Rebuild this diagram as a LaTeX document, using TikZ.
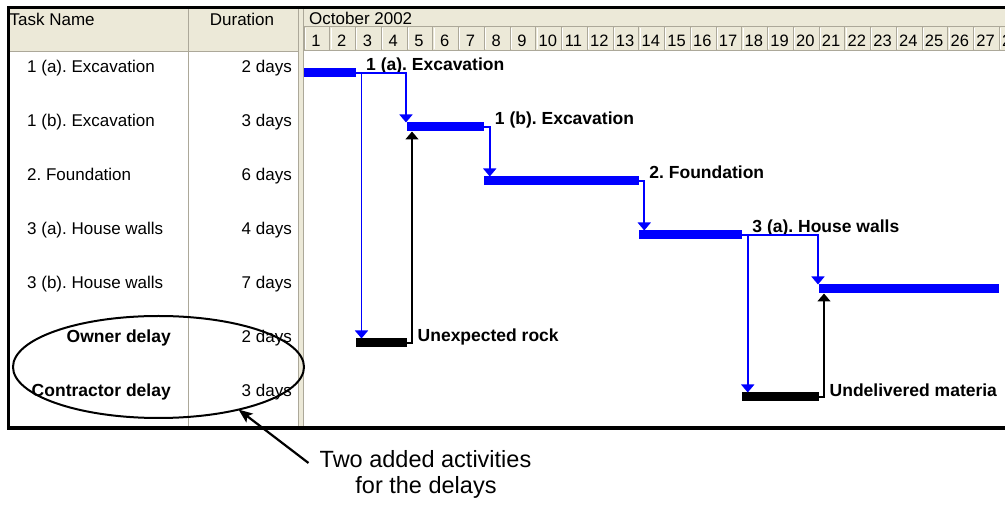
\documentclass[tikz,border=0pt]{standalone}
\usepackage{fontspec}
\setmainfont{Liberation Sans}
\usetikzlibrary{arrows.meta,calc,shapes.geometric}

\definecolor{xpbeige}{HTML}{ECE9D8}
\definecolor{xpline}{HTML}{ACA899}
\definecolor{msblue}{RGB}{0,0,255}

\frenchspacing
\begin{document}
\begin{tikzpicture}[x=1pt,y=-1pt,
  txt/.style={inner sep=0pt, font=\fontsize{17}{20}\selectfont},
  boldtxt/.style={inner sep=0pt, font=\fontsize{17.5}{20}\selectfont\bfseries},
  daynum/.style={inner sep=0pt, anchor=base, font=\fontsize{16.5}{20}\selectfont},
  taskbar/.style={fill=msblue, draw=none, inner sep=0pt, outer sep=0pt,
    minimum height=9pt, anchor=west},
  delaybar/.style={taskbar, fill=black},
  gridline/.style={xpline, line width=1pt},
  link/.style={msblue, line width=1.6pt,
    -{Triangle[width=13pt,length=8pt]}},
  blacklink/.style={link, black},
  notetext/.style={inner sep=0pt, anchor=base, font=\fontsize{23.5}{26}\selectfont},
]
\path[use as bounding box] (0,0) rectangle (1005,510);
\clip (0,0) rectangle (1005,510);
\fill[white] (0,0) rectangle (1005,510);

% ---- header band ----
\fill[xpbeige] (10,9) rectangle (1005,51);
\draw[gridline] (10,51.5) -- (298,51.5);
\draw[gridline] (304,27) -- (1005,27);
\draw[gridline] (304,50.5) -- (1005,50.5);
\foreach \k in {0,...,28} {
  \draw[gridline] ({304+\k*25.75},27) -- ({304+\k*25.75},50.5);
  \draw[white, line width=0.8pt] ({305.2+\k*25.75},28) -- ({305.2+\k*25.75},49.5);
}
\foreach \d in {1,...,28} {
  \node[daynum] (day\d) at ({304+(\d-1)*25.75+12},46.5) {\d};
}
\node[txt, anchor=base west] (hmonth) at (309,25) {October 2002};
\node[txt, anchor=base west] (hname) at (9.5,26) {Task Name};
\node[txt, anchor=base] (hdur) at (242,26) {Duration};

% ---- table column lines and split bar ----
\draw[gridline] (188,9) -- (188,427);
\fill[xpbeige] (298,9) rectangle (304,427);
\draw[gridline] (298,9) -- (298,427);
\draw[gridline] (303.5,9) -- (303.5,427);

% ---- table rows ----
\node[txt, anchor=base west] (n1a) at (27,73) {1 (a). Excavation};
\node[txt, anchor=base west] (n1b) at (27,127) {1 (b). Excavation};
\node[txt, anchor=base west] (n2)  at (27,181) {2. Foundation};
\node[txt, anchor=base west] (n3a) at (27,235) {3 (a). House walls};
\node[txt, anchor=base west] (n3b) at (27,289) {3 (b). House walls};
\node[boldtxt, anchor=base east] (nod) at (171,343) {Owner delay};
\node[boldtxt, anchor=base east] (ncd) at (171,397) {Contractor delay};

\node[txt, anchor=base east] (d1a) at (292,73) {2 days};
\node[txt, anchor=base east] (d1b) at (292,127) {3 days};
\node[txt, anchor=base east] (d2)  at (292,181) {6 days};
\node[txt, anchor=base east] (d3a) at (292,235) {4 days};
\node[txt, anchor=base east] (d3b) at (292,289) {7 days};
\node[txt, anchor=base east] (dod) at (292,343) {2 days};
\node[txt, anchor=base east] (dcd) at (292,397) {3 days};

% ---- gantt bars (day width 25.75) ----
\node[taskbar, minimum width=51.5pt]   (t1a) at (304,73) {};
\node[taskbar, minimum width=77.25pt]  (t1b) at (407,127) {};
\node[taskbar, minimum width=154.5pt]  (tf)  at (484.25,181) {};
\node[taskbar, minimum width=103pt]    (t3a) at (638.75,235) {};
\node[taskbar, minimum width=180.25pt] (t3b) at (819,289) {};
\node[delaybar, minimum width=51.5pt]  (od)  at (355.5,343) {};
\node[delaybar, minimum width=77.25pt] (cd)  at (741.75,397) {};

% ---- bar labels ----
\node[boldtxt, anchor=base west] (l1a) at ($(t1a.east)+(10.5,-2)$) {1 (a). Excavation};
\node[boldtxt, anchor=base west] (l1b) at ($(t1b.east)+(10.5,-2)$) {1 (b). Excavation};
\node[boldtxt, anchor=base west] (lf)  at ($(tf.east)+(10.5,-2)$) {2. Foundation};
\node[boldtxt, anchor=base west] (l3a) at ($(t3a.east)+(10.5,-2)$) {3 (a). House walls};
\node[boldtxt, anchor=base west] (lod) at ($(od.east)+(10.5,-1)$) {Unexpected rock};
\node[boldtxt, anchor=base west] (lcd) at ($(cd.east)+(10.5,0)$) {Undelivered materia};

% ---- dependency links ----
\coordinate (j1a) at ($(t1a.east)+(6,0)$);
\draw[link] (t1a.east) -| ($(t1b.north west)+(-1,0)$);
\draw[link] (t1a.east) -- (j1a) -- (j1a |- od.north);
\coordinate (jod) at ($(od.east)+(5,0)$);
\draw[blacklink] (od.east) -- (jod) -- (jod |- t1b.south);
\coordinate (j1b) at ($(t1b.east)+(5.5,0)$);
\draw[link] (t1b.east) -- (j1b) -- (j1b |- tf.north);
\coordinate (jf) at ($(tf.east)+(5.5,0)$);
\draw[link] (tf.east) -- (jf) -- (jf |- t3a.north);
\coordinate (j3a) at ($(t3a.east)+(6,0)$);
\draw[link] (t3a.east) -| ($(t3b.north west)+(-1,0)$);
\draw[link] (t3a.east) -- (j3a) -- (j3a |- cd.north);
\coordinate (jcd) at ($(cd.east)+(5,0)$);
\draw[blacklink] (cd.east) -- (jcd) -- (jcd |- t3b.south);

% ---- outer frame ----
\draw[line width=3.5pt, line join=miter] (1010,7.5) -- (8.5,7.5) -- (8.5,428) -- (1010,428);

% ---- highlight of the two delay rows ----
\node[draw, line width=2pt, ellipse, inner sep=0pt, outer sep=0pt,
  minimum width=291pt, minimum height=102pt] (grp) at (158.5,367) {};

\node[notetext] (note1) at (425.5,468) {Two added activities};
\node[notetext] (note2) at (426,494) {for the delays};
\coordinate (notetail) at ($(note1.base west)+(-11,-5)$);
\draw[line width=2.2pt, -{Stealth[length=14pt,width=11pt,inset=3pt]}]
  (notetail) -- (grp.-28);
\end{tikzpicture}
\end{document}
